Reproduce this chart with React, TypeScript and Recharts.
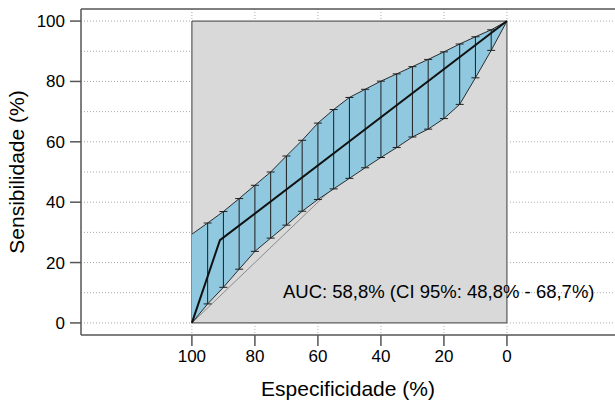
import React from "react";
import {
  ComposedChart,
  Area,
  Line,
  Scatter,
  ErrorBar,
  XAxis,
  YAxis,
  ReferenceArea,
  ReferenceLine,
  ReferenceDot,
  Label,
} from "recharts";

// specificity (%) where the sensitivity CI was computed
const specificity = [100, 95, 90, 85, 80, 75, 70, 65, 60, 55, 50, 45, 40, 35, 30, 25, 20, 15, 10, 5, 0];
const sensUpper = [29.4, 33.1, 36.9, 41.2, 45.6, 50.0, 55.3, 60.5, 66.2, 70.7, 74.7, 77.4, 80.1, 82.5, 84.9, 87.3, 89.8, 92.4, 94.8, 97.1, 100];
const sensLower = [0, 6.3, 11.8, 17.8, 23.7, 28.1, 32.4, 37.0, 40.9, 44.4, 47.9, 51.4, 54.8, 58.1, 61.6, 64.2, 67.7, 72.4, 81.2, 90.3, 100];

// ROC curve
const rocSpec = [100, 91.1, 0];
const rocSens = [0, 27.4, 100];

// chance line
const diagSpec = [100, 0];
const diagSens = [0, 100];

const xTicks = [100, 80, 60, 40, 20, 0];
const yTicks = [0, 20, 40, 60, 80, 100];
const hGrid = [0, 10, 20, 30, 40, 50, 60, 70, 80, 90, 100];
const vGrid = [100, 80, 60, 40, 20, 0];

const aucText = "AUC: 58,8% (CI 95%: 48,8% - 68,7%)";

const X_MIN = -34.3;
const X_MAX = 135.2;
const Y_MIN = -4;
const Y_MAX = 104;

const font = "'Liberation Sans', Arial, Helvetica, sans-serif";

const bandData = specificity.map((s, i) => ({ spec: s, range: [sensLower[i], sensUpper[i]] }));
const barData = specificity
  .map((s, i) => ({ spec: s, upper: sensUpper[i], err: [sensUpper[i] - sensLower[i], 0] }))
  .filter((d) => d.spec > 0 && d.spec < 100);
const rocData = rocSpec.map((s, i) => ({ spec: s, sens: rocSens[i] }));
const diagData = diagSpec.map((s, i) => ({ spec: s, sens: diagSens[i] }));

const gridStyle = { stroke: "#a8a8a8", strokeDasharray: "1 2", strokeWidth: 1 };

export default function App() {
  return (
    <div style={{ position: "absolute", left: 0, top: 0, fontFamily: font }}>
      <ComposedChart
        width={615}
        height={402}
        margin={{ top: 9, right: 0, bottom: 0, left: 0 }}
      >
        <XAxis
          type="number"
          dataKey="spec"
          domain={[X_MIN, X_MAX]}
          allowDataOverflow
          reversed
          ticks={xTicks}
          interval={0}
          height={67}
          tickSize={11}
          tickMargin={4}
          tick={{ fill: "#000", fontSize: 17, fontFamily: font }}
          stroke="#555"
          strokeWidth={1.5}
        >
          <Label
            value="Especificidade (%)"
            position="insideBottom"
            offset={6}
            style={{ fontSize: 21, fill: "#000", fontFamily: font }}
          />
        </XAxis>
        <YAxis
          type="number"
          domain={[Y_MIN, Y_MAX]}
          allowDataOverflow
          ticks={yTicks}
          interval={0}
          width={81}
          tickSize={11}
          tickMargin={5}
          tick={{ fill: "#000", fontSize: 17, fontFamily: font }}
          stroke="#555"
          strokeWidth={1.5}
        >
          <Label
            value="Sensibilidade (%)"
            angle={-90}
            position="insideLeft"
            offset={17}
            style={{ fontSize: 21, fill: "#000", fontFamily: font, textAnchor: "middle" }}
          />
        </YAxis>

        {/* dotted grid outside the gray square */}
        {hGrid.map((v) => (
          <ReferenceLine
            key={"hl" + v}
            segment={[{ x: X_MAX, y: v }, { x: 100, y: v }]}
            {...gridStyle}
          />
        ))}
        {hGrid.map((v) => (
          <ReferenceLine
            key={"hr" + v}
            segment={[{ x: 0, y: v }, { x: X_MIN, y: v }]}
            {...gridStyle}
          />
        ))}
        {vGrid.map((v) => (
          <ReferenceLine
            key={"vt" + v}
            segment={[{ x: v, y: Y_MAX }, { x: v, y: 100 }]}
            {...gridStyle}
          />
        ))}
        {vGrid.map((v) => (
          <ReferenceLine
            key={"vb" + v}
            segment={[{ x: v, y: 0 }, { x: v, y: Y_MIN }]}
            {...gridStyle}
          />
        ))}

        {/* plot box top edge */}
        <ReferenceLine y={Y_MAX} stroke="#555" strokeWidth={1.5} />

        <ReferenceArea
          x1={100}
          x2={0}
          y1={0}
          y2={100}
          fill="#d9d9d9"
          fillOpacity={1}
          stroke="#3a3a3a"
          strokeWidth={1}
          zIndex={40}
        />

        {/* chance line sits under the CI band */}
        <Line
          data={diagData}
          dataKey="sens"
          type="linear"
          stroke="#8a8a8a"
          strokeWidth={1}
          dot={false}
          activeDot={false}
          isAnimationActive={false}
          zIndex={60}
        />

        <Area
          data={bandData}
          dataKey="range"
          type="linear"
          fill="#8fc8df"
          fillOpacity={1}
          stroke="#2b2b2b"
          strokeWidth={1}
          isAnimationActive={false}
          dot={false}
          activeDot={false}
          zIndex={100}
        />

        <Scatter
          data={barData}
          dataKey="upper"
          shape={() => <g />}
          isAnimationActive={false}
        >
          <ErrorBar
            dataKey="err"
            direction="y"
            width={4}
            stroke="#1e1e1e"
            strokeWidth={1}
            isAnimationActive={false}
          />
        </Scatter>

        <Line
          data={rocData}
          dataKey="sens"
          type="linear"
          stroke="#111"
          strokeWidth={2}
          dot={false}
          activeDot={false}
          isAnimationActive={false}
        />

        <ReferenceDot
          x={71.1}
          y={10.5}
          r={0}
          fill="none"
          stroke="none"
          label={{
            value: aucText,
            position: "right",
            offset: 0,
            fill: "#000",
            fontSize: 18.5,
            fontFamily: font,
          }}
        />
      </ComposedChart>
    </div>
  );
}
